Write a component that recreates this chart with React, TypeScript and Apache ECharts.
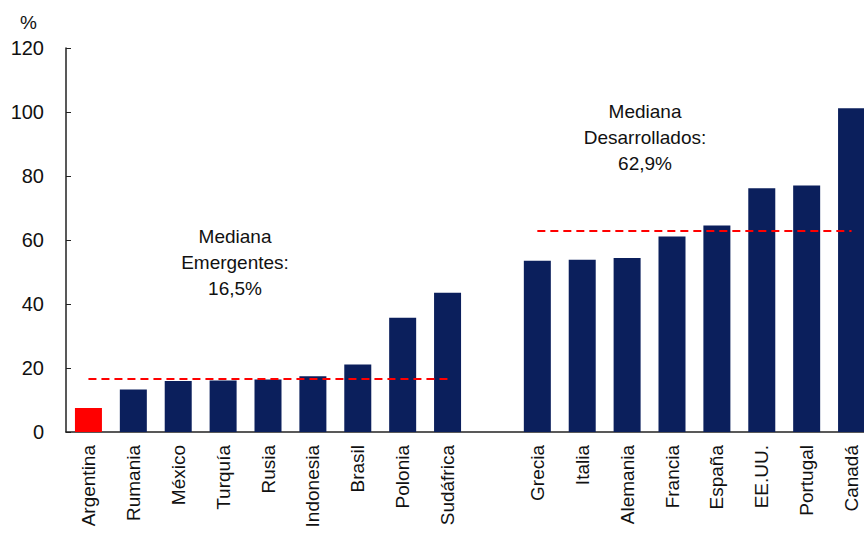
import React, { useEffect, useRef } from "react";
import * as echarts from "echarts";

const categories = ["Argentina", "Rumania", "México", "Turquía", "Rusia", "Indonesia", "Brasil", "Polonia", "Sudáfrica", "", "Grecia", "Italia", "Alemania", "Francia", "España", "EE.UU.", "Portugal", "Canadá"];
const values: (number | null)[] = [7.5, 13.3, 15.9, 16.1, 16.4, 17.4, 21.1, 35.7, 43.5, null, 53.5, 53.8, 54.4, 61.1, 64.5, 76.2, 77.0, 101.2];
const highlighted = ["Argentina"];
const medianEmerging = 16.5;
const medianDeveloped = 62.9;
const emergingRange = ["Argentina", "Sudáfrica"];
const developedRange = ["Grecia", "Canadá"];
const yTicks = { min: 0, max: 120, interval: 20 };

const FONT = "'Liberation Sans', Arial, sans-serif";

export default function App() {
  const ref = useRef<HTMLDivElement>(null);
  useEffect(() => {
    if (!ref.current) return;
    const chart = echarts.init(ref.current, undefined, { renderer: "svg" });
    chart.setOption({
      animation: false,
      backgroundColor: "#ffffff",
      grid: { left: 66, top: 48, width: 808, bottom: 104, outerBoundsMode: "none", containLabel: false },
      xAxis: {
        type: "category",
        data: categories,
        axisLine: { lineStyle: { color: "#222", width: 1.5 } },
        axisTick: { show: false },
        axisLabel: { rotate: 90, fontSize: 19, color: "#111", fontFamily: FONT, margin: 13, interval: 0 },
      },
      yAxis: {
        type: "value",
        min: yTicks.min,
        max: yTicks.max,
        interval: yTicks.interval,
        splitLine: { show: false },
        axisLine: { show: true, lineStyle: { color: "#222", width: 1.5 } },
        axisTick: { show: true, inside: true, length: 5, lineStyle: { color: "#222" } },
        axisLabel: { fontSize: 20, color: "#111", fontFamily: FONT, margin: 22 },
      },
      series: [
        {
          type: "bar",
          barWidth: 27,
          data: values.map((v, i) => ({
            value: v,
            itemStyle: { color: highlighted.includes(categories[i]) ? "#ff0000" : "#0b1f5c" },
          })),
          markLine: {
            silent: true,
            symbol: "none",
            label: { show: false },
            lineStyle: { color: "#ff0000", type: [8, 5], width: 2 },
            data: [
              [
                { coord: [emergingRange[0], medianEmerging] },
                { coord: [emergingRange[1], medianEmerging] },
              ],
              [
                { coord: [developedRange[0], medianDeveloped] },
                { coord: [developedRange[1], medianDeveloped] },
              ],
            ],
          },
        },
      ],
      graphic: [
        {
          type: "text",
          left: 20,
          top: 13,
          style: { text: "%", fontSize: 19, fill: "#111", fontFamily: FONT },
        },
        {
          type: "text",
          x: 235,
          y: 262,
          style: {
            text: "Mediana\nEmergentes:\n16,5%",
            fontSize: 19,
            lineHeight: 26,
            fill: "#111",
            fontFamily: FONT,
            align: "center",
            verticalAlign: "middle",
          },
        },
        {
          type: "text",
          x: 645,
          y: 137,
          style: {
            text: "Mediana\nDesarrollados:\n62,9%",
            fontSize: 19,
            lineHeight: 26,
            fill: "#111",
            fontFamily: FONT,
            align: "center",
            verticalAlign: "middle",
          },
        },
      ],
    });
    return () => chart.dispose();
  }, []);
  return <div ref={ref} style={{ width: 864, height: 536, position: "absolute", left: 0, top: 0 }} />;
}
